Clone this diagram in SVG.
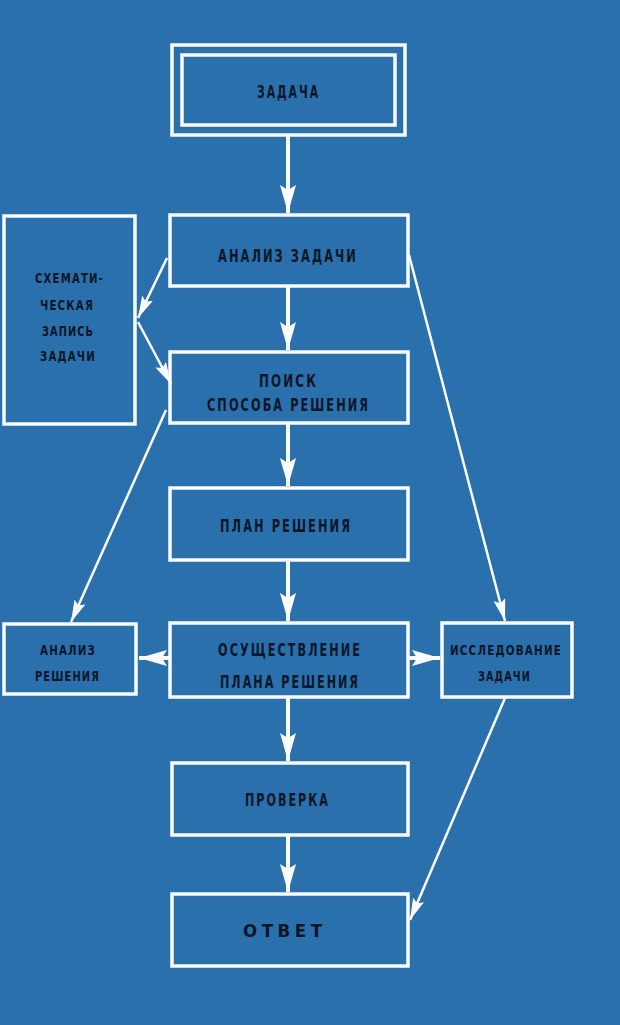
<svg xmlns="http://www.w3.org/2000/svg" width="620" height="1025" viewBox="0 0 620 1025">
<defs>
<style>
.box{fill:none;stroke:#fbfcfd;stroke-width:3.5}
.t{font-family:"DejaVu Sans Condensed","Liberation Sans Narrow","Liberation Sans",sans-serif;font-weight:bold;fill:#0c1626;text-anchor:middle}
.m{font-size:18.5px;letter-spacing:3px}
.s{font-size:14.5px;letter-spacing:1.5px}
.main{stroke:#fbfcfd;stroke-width:4;fill:none;marker-end:url(#big)}
.thin{stroke:#fbfcfd;stroke-width:2.5;fill:none;marker-end:url(#small)}
</style>
<marker id="big" viewBox="0 0 28 16" refX="28" refY="8" markerWidth="28" markerHeight="16" orient="auto" markerUnits="userSpaceOnUse"><path d="M0,0 L28,8 L0,16 L5,8 z" fill="#fbfcfd"/></marker>
<marker id="small" viewBox="0 0 22 12" refX="22" refY="6" markerWidth="22" markerHeight="12" orient="auto" markerUnits="userSpaceOnUse"><path d="M0,0 L22,6 L0,12 L4,6 z" fill="#fbfcfd"/></marker>
</defs>
<rect width="620" height="1025" fill="#2a70ac"/>
<g id="connectors">
<path class="main" d="M288,136 V213"/>
<path class="main" d="M288,287 V350"/>
<path class="main" d="M288,424 V486"/>
<path class="main" d="M288,561 V621"/>
<path class="main" d="M288,698 V761"/>
<path class="main" d="M288,836 V892"/>
<path class="main" d="M170,658 H139"/>
<path class="main" d="M408,658 H440"/>
<path class="thin" d="M167,258 L138,318"/>
<path class="thin" d="M138,322 L171,384"/>
<path class="thin" d="M166,410 L71,622"/>
<path class="thin" d="M409,255 L505,621"/>
<path class="thin" d="M505,698 L410,920"/>
</g>
<g id="n-zadacha">
<rect class="box" x="172" y="45" width="233" height="90"/>
<rect class="box" x="182" y="55" width="213" height="70"/>
<text class="t m" x="288.5" y="98" textLength="63" lengthAdjust="spacingAndGlyphs">ЗАДАЧА</text>
</g>
<g id="n-analiz">
<rect class="box" x="170" y="215" width="238" height="71"/>
<text class="t m" x="288" y="262" textLength="140" lengthAdjust="spacingAndGlyphs">АНАЛИЗ ЗАДАЧИ</text>
</g>
<g id="n-schema">
<rect class="box" x="4" y="216" width="131" height="208"/>
<text class="t s" x="69.5" y="283" textLength="69" lengthAdjust="spacingAndGlyphs">СХЕМАТИ-</text>
<text class="t s" x="67" y="310" textLength="54" lengthAdjust="spacingAndGlyphs">ЧЕСКАЯ</text>
<text class="t s" x="68" y="336" textLength="52" lengthAdjust="spacingAndGlyphs">ЗАПИСЬ</text>
<text class="t s" x="68" y="361" textLength="56" lengthAdjust="spacingAndGlyphs">ЗАДАЧИ</text>
</g>
<g id="n-poisk">
<rect class="box" x="170" y="352" width="238" height="71"/>
<text class="t m" x="288.5" y="387" textLength="59" lengthAdjust="spacingAndGlyphs">ПОИСК</text>
<text class="t m" x="288.5" y="411" textLength="163" lengthAdjust="spacingAndGlyphs">СПОСОБА РЕШЕНИЯ</text>
</g>
<g id="n-plan">
<rect class="box" x="170" y="488" width="238" height="72"/>
<text class="t m" x="286" y="532" textLength="132" lengthAdjust="spacingAndGlyphs">ПЛАН РЕШЕНИЯ</text>
</g>
<g id="n-osush">
<rect class="box" x="170" y="623" width="238" height="74"/>
<text class="t m" x="290" y="656" textLength="144" lengthAdjust="spacingAndGlyphs">ОСУЩЕСТВЛЕНИЕ</text>
<text class="t m" x="290" y="688" textLength="140" lengthAdjust="spacingAndGlyphs">ПЛАНА РЕШЕНИЯ</text>
</g>
<g id="n-analiz-resh">
<rect class="box" x="4" y="624" width="132" height="70"/>
<text class="t s" x="68" y="655" textLength="56" lengthAdjust="spacingAndGlyphs">АНАЛИЗ</text>
<text class="t s" x="67.5" y="681" textLength="65" lengthAdjust="spacingAndGlyphs">РЕШЕНИЯ</text>
</g>
<g id="n-issled">
<rect class="box" x="442" y="623" width="130" height="74"/>
<text class="t s" x="506" y="655" textLength="112" lengthAdjust="spacingAndGlyphs">ИССЛЕДОВАНИЕ</text>
<text class="t s" x="504.5" y="681" textLength="53" lengthAdjust="spacingAndGlyphs">ЗАДАЧИ</text>
</g>
<g id="n-proverka">
<rect class="box" x="172" y="763" width="236" height="72"/>
<text class="t m" x="287.5" y="806" textLength="85" lengthAdjust="spacingAndGlyphs">ПРОВЕРКА</text>
</g>
<g id="n-otvet">
<rect class="box" x="172" y="894" width="236" height="72"/>
<text class="t m" x="282.5" y="937" textLength="79" lengthAdjust="spacing" style="letter-spacing:0">О Т В Е Т</text>
</g>
</svg>
